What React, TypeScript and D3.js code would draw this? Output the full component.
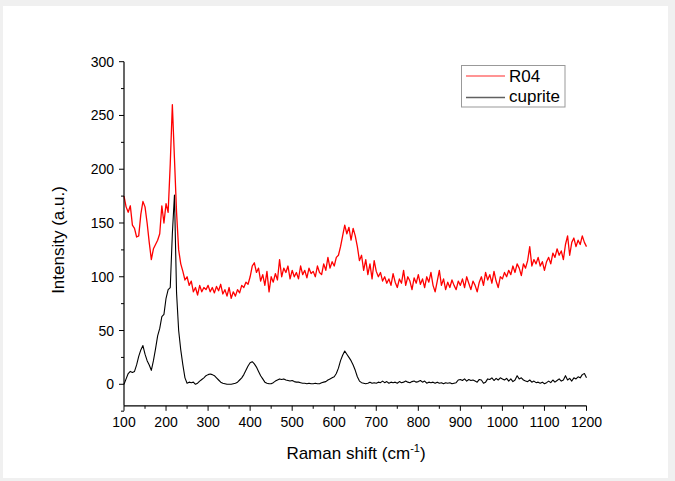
import React from "react";
import * as d3 from "d3";

const SHIFT_START = 100;
const SHIFT_STEP = 5;

const r04Intensity: number[] = [
  175, 165, 160, 166, 148, 145, 137, 138, 158, 170,
  165, 150, 132, 116, 126, 130, 134, 140, 166, 150,
  168, 160, 205, 260, 210, 160, 125, 112, 105, 97,
  100, 92, 96, 86, 90, 83, 92, 86, 90, 88,
  92, 86, 90, 85, 91, 87, 93, 84, 88, 82,
  90, 80, 86, 82, 88, 85, 92, 90, 95, 93,
  100, 110, 113, 104, 108, 96, 102, 92, 105, 86,
  100, 95, 103, 97, 116, 100, 108, 104, 110, 98,
  106, 100, 104, 98, 110, 102, 106, 99, 108, 103,
  105, 100, 110, 104, 102, 112, 106, 118, 108, 114,
  110, 118, 120, 128, 138, 148, 140, 146, 134, 145,
  138, 128, 115, 120, 106, 116, 102, 112, 98, 115,
  105, 100, 104, 96, 100, 94, 98, 92, 103, 95,
  90, 98, 94, 106, 92, 100, 96, 88, 99, 94,
  102, 93, 98, 90, 100, 95, 104, 92, 86, 96,
  106, 92, 98, 88, 95, 90, 97, 92, 88, 96,
  92, 98, 90, 100, 94, 88, 96, 92, 86, 95,
  100, 92, 104, 97, 102, 94, 105, 96, 90, 100,
  98, 104, 100, 106, 102, 110, 104, 112, 108, 101,
  112, 108, 115, 128, 110, 116, 112, 118, 110, 114,
  106, 114, 118, 112, 122, 118, 126, 120, 124, 116,
  130, 138, 120, 132, 136, 128, 134, 130, 138, 132,
  128,
];

const cupriteIntensity: number[] = [
  0, 5, 10, 12, 11, 12, 18, 26, 32, 36,
  28, 22, 18, 13, 22, 33, 45, 52, 63, 65,
  80, 88, 90, 140, 176, 85, 50, 32, 18, 6,
  1, 2, 1.5, 2, 0, 1, 3, 4.5, 6, 8,
  9, 9.5, 9, 8, 6, 4, 2, 1, 0.5, 0,
  0, 0, 0.5, 1, 2, 4, 6, 9, 13, 17,
  20, 21, 19, 16, 12, 8, 5, 2, 1, 0.5,
  0.5, 1.5, 3, 4, 5, 4.5, 5, 4, 3.5, 3,
  3.5, 2.5, 2, 2, 1.5, 1, 1, 0.5, 1, 0.5,
  0.5, 1, 0.5, 0.5, 1.5, 2, 2.5, 4, 5, 6,
  7, 10, 15, 22, 27, 31, 28, 25, 22, 18,
  13, 7, 3, 1.5, 1, 0.5, 1, 2, 1, 1.5,
  1, 2, 1.5, 3, 1.5, 2.5, 1, 2, 1.5, 2,
  1, 2.5, 1.5, 2, 3, 2, 1.5, 2.5, 3, 2,
  2.5, 3.5, 2, 3, 1, 2, 1.5, 2, 1, 2,
  1, 1.5, 0.5, 1.5, 1, 1.5, 0.5, 1, 1.5, 4,
  4.5, 3.5, 5, 3, 4.5, 3.5, 4, 3, 2, 4.5,
  4, 1, 2, 5, 4.5, 6, 3.5, 5.5, 4, 6,
  5, 4, 5.5, 3, 5, 2.5, 4, 8, 5, 6,
  4, 3, 2.5, 4, 2, 3, 1.5, 2, 1, 2,
  0.5, 1.5, 3, 1.5, 4, 2, 3.5, 5, 3, 4,
  8, 4, 5.5, 3, 6, 5, 7, 6, 9, 10,
  6,
];

const xTicks = [100, 200, 300, 400, 500, 600, 700, 800, 900, 1000, 1100, 1200];
const xMinor = [150, 250, 350, 450, 550, 650, 750, 850, 950, 1050, 1150];
const yTicks = [0, 50, 100, 150, 200, 250, 300];
const yMinor = [-25, 25, 75, 125, 175, 225, 275];

const seriesNames = ["R04", "cuprite"];
const seriesColors = ["#ff0000", "#000000"];
const seriesWidths = [1.3, 1.1];
const legendColors = ["#ff7070", "#606060"];

export default function App() {
  const W = 675;
  const H = 481;
  const x = d3.scaleLinear().domain([100, 1200]).range([124, 586.5]);
  const y = d3.scaleLinear().domain([-20, 300]).range([405.8, 61.7]);

  const toPts = (arr: number[]) =>
    arr.map((v, i) => [SHIFT_START + i * SHIFT_STEP, v] as [number, number]);
  const line = d3
    .line<[number, number]>()
    .x((d) => x(d[0]))
    .y((d) => y(d[1]));

  const series = [r04Intensity, cupriteIntensity];
  const font = "Arial, 'Liberation Sans', sans-serif";
  const x0 = x(100);
  const yb = y(-20);

  return (
    <svg
      width={W}
      height={H}
      style={{ position: "absolute", left: 0, top: 0 }}
      fontFamily={font}
    >
      <rect x={0} y={0} width={W} height={H} fill="#f0f0f0" />
      <rect x={3} y={6} width={665} height={472} fill="#ffffff" />

      {series.map((s, i) => (
        <path
          key={seriesNames[i]}
          d={line(toPts(s)) || ""}
          fill="none"
          stroke={seriesColors[i]}
          strokeWidth={seriesWidths[i]}
          strokeLinejoin="round"
        />
      ))}

      {/* axes */}
      <line x1={x0} x2={x0} y1={y(300)} y2={yb} stroke="#000" strokeWidth={1.2} />
      <line x1={x0} x2={x(1200)} y1={yb} y2={yb} stroke="#000" strokeWidth={1.2} />

      {yTicks.map((t) => (
        <g key={"y" + t}>
          <line x1={x0 - 5} x2={x0} y1={y(t)} y2={y(t)} stroke="#000" strokeWidth={1} />
          <text x={x0 - 10} y={y(t) + 5} fontSize={14} textAnchor="end" fill="#000">
            {t}
          </text>
        </g>
      ))}
      {yMinor.map((t) => (
        <line key={"ym" + t} x1={x0 - 3} x2={x0} y1={y(t)} y2={y(t)} stroke="#000" strokeWidth={1} />
      ))}

      {xTicks.map((t) => (
        <g key={"x" + t}>
          <line x1={x(t)} x2={x(t)} y1={yb} y2={yb + 5} stroke="#000" strokeWidth={1} />
          <text x={x(t)} y={yb + 21} fontSize={14} textAnchor="middle" fill="#000">
            {t}
          </text>
        </g>
      ))}
      {xMinor.map((t) => (
        <line key={"xm" + t} x1={x(t)} x2={x(t)} y1={yb} y2={yb + 3} stroke="#000" strokeWidth={1} />
      ))}

      {/* axis titles */}
      <text x={356} y={459} fontSize={17} textAnchor="middle" fill="#000">
        Raman shift (cm
        <tspan fontSize={11} dy={-7}>-1</tspan>
        <tspan dy={7}>)</tspan>
      </text>
      <text
        transform={`translate(64, 240) rotate(-90)`}
        fontSize={17}
        textAnchor="middle"
        fill="#000"
      >
        Intensity (a.u.)
      </text>

      {/* legend */}
      <rect x={461.5} y={65.5} width={103.5} height={41.5} fill="#fff" stroke="#999" strokeWidth={1} />
      {seriesNames.map((n, i) => (
        <g key={"lg" + n}>
          <line
            x1={466}
            x2={505}
            y1={76 + i * 21.5}
            y2={76 + i * 21.5}
            stroke={legendColors[i]}
            strokeWidth={1.5}
          />
          <text x={509} y={82 + i * 20} fontSize={17} fill="#000">
            {n}
          </text>
        </g>
      ))}
    </svg>
  );
}
